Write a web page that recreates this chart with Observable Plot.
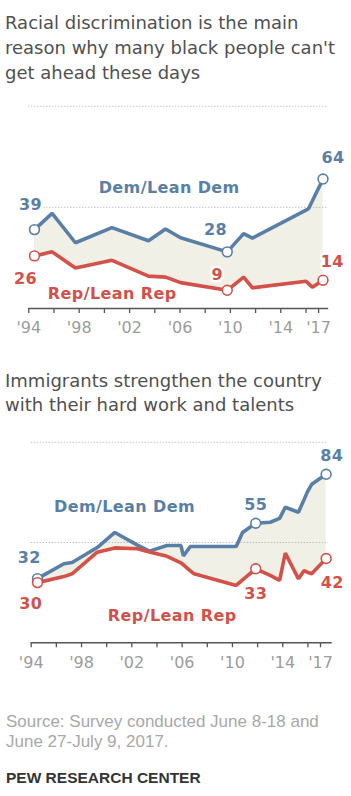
<!DOCTYPE html>
<html><head><meta charset="utf-8">
<script src="https://cdn.jsdelivr.net/npm/d3@7"></script>
<script src="https://cdn.jsdelivr.net/npm/@observablehq/plot@0.6"></script>
<style>
html,body{margin:0;padding:0;background:#fff}
body{width:351px;height:796px;position:relative;overflow:hidden}
.title{position:absolute;left:5px;font-family:"DejaVu Sans";font-size:18px;color:#505050;white-space:nowrap;line-height:25px}
.chart{position:absolute;left:0}
.src{position:absolute;left:6px;top:712px;font-family:"Liberation Sans";font-size:17px;line-height:20px;color:#a8a8a8;white-space:nowrap}
.pew{position:absolute;left:6px;top:770px;font-family:"Liberation Sans";font-weight:bold;font-size:15.5px;line-height:15.5px;color:#333;white-space:nowrap}
.chart g[aria-label="text"] text{letter-spacing:0.4px}
</style></head><body>
<div class="title" style="top:9.6px">Racial discrimination is the main<br>reason why many black people can't<br>get ahead these days</div>
<div id="c1" class="chart" style="top:90px"></div>
<div class="title" style="top:368.6px;line-height:24.5px">Immigrants strengthen the country<br>with their hard work and talents</div>
<div id="c2" class="chart" style="top:420px"></div>
<div class="src">Source: Survey conducted June 8-18 and<br>June 27-July 9, 2017.</div>
<div class="pew">PEW RESEARCH CENTER</div>
<script>
// ---- data ----
const tickYears = [1994,1996,1998,2000,2002,2004,2006,2008,2010,2012,2014,2016,2017];
const labelYears = [1994,1998,2002,2006,2010,2014,2017];
const gridValues = [50,100];

// Chart 1: Racial discrimination is the main reason...
const years1 = [1994.45,1995.85,1997.7,2000.6,2003.5,2004.85,2006.05,2009.75,2011.05,2011.75,2016.0,2016.2,2016.5,2017.35];
const dem1   = [39,47,32.5,40,33.5,39.3,35,28,37,34.8,48.6,49.3,53.1,64];
const rep1   = [26,28,20,23.8,16,15.5,12.8,9,15.5,10.2,13.5,12.3,10.5,14];
const hiIdx1 = [0,7,13];
const demLabels1 = ["39","28","64"];
const repLabels1 = ["26","9","14"];

// Chart 2: Immigrants strengthen the country...
const years2 = [1994.5,1996.6,1997.25,1999.25,2000.65,2002.45,2003.4,2004.8,2005.9,2006.1,2006.65,2006.95,2010.3,2010.8,2011.85,2013.0,2013.75,2014.2,2015.25,2015.7,2015.95,2016.3,2017.45];
const dem2   = [32,39.4,40,47.5,55,48.7,45.7,48.5,48.5,43.3,48,48,48,55,59.6,60.1,62,67.6,65.1,71.5,75.1,79,84];
const rep2   = [30,33,34.4,45.2,47.3,46.9,45.3,43.1,39.9,38.9,35.9,34.4,28.6,31.4,36.9,33.6,31.1,44.7,31.9,36,35.2,34.4,42];
const hiIdx2 = [0,14,22];
const demLabels2 = ["32","55","84"];
const repLabels2 = ["30","33","42"];

const seriesNames = ["Dem/Lean Dem","Rep/Lean Rep"];

// ---- style ----
const BLUE = "#5a7fa6", RED = "#d4514a", FILL = "#f1f0e7";
const FONT = "DejaVu Sans";

function chart(cfg) {
  const data = cfg.years.map((year,i)=>({year, dem: cfg.dem[i], rep: cfg.rep[i]}));
  const hi = cfg.hiIdx.map(i=>data[i]);
  const txt = {fontFamily: FONT, fontSize: 16, fontWeight: "bold", textAnchor: "middle", lineAnchor: "bottom", stroke: "white", strokeWidth: 5};
  const marks = [
    Plot.areaY(data, {x:"year", y1:"rep", y2:"dem", fill: FILL}),
    Plot.ruleY(gridValues, {x1: 1994, x2: cfg.gridEnd, stroke: "#a8a8a8", strokeWidth: 1, strokeDasharray: "1,2"}),
    Plot.ruleY([0], {x1: 1994, x2: cfg.axisEnd, stroke: "#555", strokeWidth: 1.5}),
    Plot.axisX({ticks: tickYears, tickSize: 5, tickPadding: 8.6, label: null, tickFormat: d => labelYears.includes(d) ? "'" + String(d).slice(2) : "",
      stroke: "#555", strokeWidth: 1.3, fill: "#9c9c9c", fontSize: 16, fontFamily: FONT}),
    Plot.line(data, {x:"year", y:"dem", stroke: BLUE, strokeWidth: 3.6, strokeLinejoin: "miter"}),
    Plot.line(data, {x:"year", y:"rep", stroke: RED, strokeWidth: 3.6, strokeLinejoin: "miter"}),
    Plot.dot(hi, {x:"year", y:"dem", r: 4.9, fill: "white", stroke: BLUE, strokeWidth: 1.6}),
    Plot.dot(hi, {x:"year", y:"rep", r: 4.9, fill: "white", stroke: RED, strokeWidth: 1.6}),
    Plot.text([seriesNames[0]], {...txt, x: cfg.demPos[0], y: cfg.demPos[1], text: d=>d, fill: BLUE}),
    Plot.text([seriesNames[1]], {...txt, x: cfg.repPos[0], y: cfg.repPos[1], text: d=>d, fill: RED}),
    ...cfg.demLabels.map((t,j)=>Plot.text([hi[j]], {...txt, x:"year", y:"dem", text: ()=>t, fill: BLUE, dx: cfg.demOff[j][0], dy: cfg.demOff[j][1]})),
    ...cfg.repLabels.map((t,j)=>Plot.text([hi[j]], {...txt, x:"year", y:"rep", text: ()=>t, fill: RED, dx: cfg.repOff[j][0], dy: cfg.repOff[j][1]}))
  ];
  return Plot.plot({
    width: 351, height: 260,
    marginLeft: cfg.ml, marginRight: cfg.mr, marginTop: cfg.mt, marginBottom: cfg.mb,
    x: {domain: [1994, 2017], label: null},
    y: {domain: [0, 100], axis: null},
    style: {fontFamily: FONT, fontSize: "16px", background: "transparent", overflow: "visible"},
    marks
  });
}

document.getElementById("c1").append(chart({
  years: years1, dem: dem1, rep: rep1, hiIdx: hiIdx1, demLabels: demLabels1, repLabels: repLabels1,
  ml: 28.3, mr: 32.9, mt: 15.7, mb: 42, gridEnd: 2017.68, axisEnd: 2017.8,
  demPos: [2005.14, 57.0], repPos: [2000.62, 4.9],
  demOff: [[-4,-19.5],[-11.7,-17.3],[10,-15.7]],
  repOff: [[-9,28],[-10,-10.5],[9.3,-13.3]]
}));
document.getElementById("c2").append(chart({
  years: years2, dem: dem2, rep: rep2, hiIdx: hiIdx2, demLabels: demLabels2, repLabels: repLabels2,
  ml: 30.7, mr: 31, mt: 21.7, mb: 37.7, gridEnd: 2017.63, axisEnd: 2017.93,
  demPos: [2001.42, 65.1], repPos: [2005.21, 11.1],
  demOff: [[-8.3,-16],[0,-13.4],[5.7,-13.3]],
  repOff: [[-6.7,26.7],[0,30],[6,29.3]]
}));
</script>
</body></html>
